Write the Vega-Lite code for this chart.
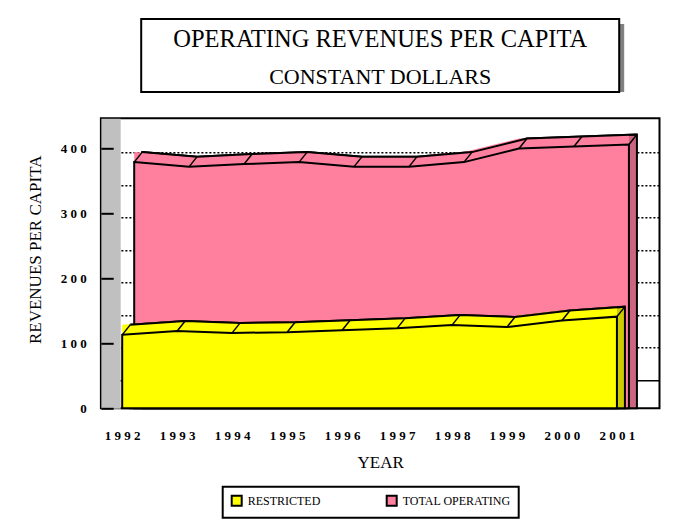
{
  "$schema": "https://vega.github.io/schema/vega-lite/v6.json",
  "autosize": {"type": "none"},
  "padding": {"left": 100.7, "top": 19, "right": 577.3, "bottom": 510},
  "background": "white",
  "config": {
    "font": "Liberation Serif",
    "view": {"stroke": null},
    "axis": {"labelColor": "black", "titleColor": "black", "labelFont": "Liberation Serif", "titleFont": "Liberation Serif", "titleFontWeight": "normal"},
    "legend": {"strokeWidth": 2}
  },
  "datasets": {
    "rev": [
      {"year": 1992, "series": "RESTRICTED", "value": 113},
      {"year": 1993, "series": "RESTRICTED", "value": 119},
      {"year": 1994, "series": "RESTRICTED", "value": 116},
      {"year": 1995, "series": "RESTRICTED", "value": 117},
      {"year": 1996, "series": "RESTRICTED", "value": 120},
      {"year": 1997, "series": "RESTRICTED", "value": 123},
      {"year": 1998, "series": "RESTRICTED", "value": 128},
      {"year": 1999, "series": "RESTRICTED", "value": 125},
      {"year": 2000, "series": "RESTRICTED", "value": 135},
      {"year": 2001, "series": "RESTRICTED", "value": 141},
      {"year": 1992, "series": "TOTAL OPERATING", "value": 348},
      {"year": 1993, "series": "TOTAL OPERATING", "value": 341},
      {"year": 1994, "series": "TOTAL OPERATING", "value": 345},
      {"year": 1995, "series": "TOTAL OPERATING", "value": 348},
      {"year": 1996, "series": "TOTAL OPERATING", "value": 341},
      {"year": 1997, "series": "TOTAL OPERATING", "value": 341},
      {"year": 1998, "series": "TOTAL OPERATING", "value": 348},
      {"year": 1999, "series": "TOTAL OPERATING", "value": 369},
      {"year": 2000, "series": "TOTAL OPERATING", "value": 372},
      {"year": 2001, "series": "TOTAL OPERATING", "value": 375}
    ]
  },
  "spacing": 26.3,
  "bounds": "flush",
  "center": true,
  "vconcat": [
    {
      "width": 478,
      "height": 73,
      "view": {"stroke": null},
      "data": {"values": [{"title": "OPERATING REVENUES PER CAPITA", "subtitle": "CONSTANT DOLLARS"}]},
      "layer": [
        {"mark": {"type": "rect", "fill": "#808080", "xOffset": 5, "x2Offset": 5, "yOffset": 5, "y2Offset": 5}, "encoding": {}},
        {"mark": {"type": "rect", "fill": "white", "stroke": "black", "strokeWidth": 2}, "encoding": {}},
        {"mark": {"type": "text", "font": "Liberation Serif", "fontSize": 24.5, "baseline": "alphabetic", "dy": -8.8, "color": "black"}, "encoding": {"text": {"field": "title"}}},
        {"mark": {"type": "text", "font": "Liberation Serif", "fontSize": 22, "baseline": "alphabetic", "dy": 28.5, "color": "black"}, "encoding": {"text": {"field": "subtitle"}}}
      ]
    },
    {
      "width": 558.6,
      "height": 290,
      "view": {"stroke": "black", "strokeWidth": 2},
      "data": {"name": "rev"},
      "encoding": {
        "x": {
          "field": "year", "type": "quantitative",
          "scale": {"domain": [1991.6125, 2001.7745], "nice": false, "zero": false},
          "axis": {
            "values": [1992, 1993, 1994, 1995, 1996, 1997, 1998, 1999, 2000, 2001],
            "format": "d",
            "labelExpr": "join(split(datum.label, ''), ' ')",
            "labelFontSize": 13, "labelFontWeight": "bold", "labelPadding": 21,
            "ticks": false, "tickSize": 0, "domain": false, "grid": false,
            "title": "YEAR", "titleFontSize": 17, "titlePadding": 12
          }
        }
      },
      "layer": [
        {
          "mark": {"type": "point", "opacity": 0, "size": 0},
          "encoding": {
            "y": {
              "field": "value", "type": "quantitative",
              "scale": {"domain": [-43.08, 403.07], "nice": false, "zero": false},
              "axis": {
                "orient": "left",
                "offset": -9.65,
                "values": [0, 50, 100, 150, 200, 250, 300, 350],
                "labels": false, "ticks": false, "tickSize": 0,
                "domain": true, "domainColor": "#C0C0C0", "domainWidth": 19.3,
                "grid": true, "gridColor": "black", "gridWidth": 1.5, "gridOpacity": 1,
                "gridDash": {"condition": {"test": "datum.value === 0", "value": []}, "value": [2, 2]},
                "title": null
              }
            }
          }
        },
        {
          "encoding": {
            "y": {
              "field": "value", "type": "quantitative", "stack": null,
              "scale": {"domain": [0, 446.15], "nice": false, "zero": false},
              "axis": {
                "orient": "left",
                "zindex": 1,
                "values": [0, 100, 200, 300, 400],
                "labelExpr": "join(split(datum.label, ''), ' ')",
                "labelFontSize": 13, "labelFontWeight": "bold", "labelPadding": 14.7,
                "ticks": true, "tickSize": 12.3, "tickColor": "black", "tickWidth": 2, "tickOpacity": 1,
                "domain": false,
                "offset": -12.3, "grid": false,
                "title": "REVENUES PER CAPITA", "titleFontSize": 17, "titlePadding": 16, "titleY": 131
              }
            }
          },
          "layer": [
            {
              "transform": [{"filter": "datum.series === 'TOTAL OPERATING'"}],
              "mark": {"type": "area", "fill": "#CC6680", "stroke": "black", "strokeWidth": 2, "opacity": 1, "xOffset": 20, "yOffset": -30, "y2Offset": -30}
            },
            {
              "transform": [{"filter": "datum.series === 'TOTAL OPERATING'"}],
              "mark": {"type": "area", "fill": "#FF7F9F", "strokeWidth": 0, "opacity": 1, "xOffset": 12, "yOffset": -30, "y2Offset": -30}
            },
            {
              "transform": [{"filter": "datum.series === 'TOTAL OPERATING'"}],
              "mark": {"type": "line", "color": "black", "strokeWidth": 2, "xOffset": 20, "yOffset": -30},
              "encoding": {}
            },
            {
              "transform": [{"filter": "datum.series === 'TOTAL OPERATING'"}],
              "mark": {"type": "rule", "color": "black", "strokeWidth": 1.5, "xOffset": 12, "yOffset": -20, "x2Offset": 20, "y2Offset": -30},
              "encoding": {"x2": {"field": "year"}, "y2": {"field": "value"}}
            },
            {
              "transform": [{"filter": "datum.series === 'TOTAL OPERATING'"}],
              "mark": {"type": "area", "stroke": "black", "strokeWidth": 2, "opacity": 1, "xOffset": 12, "yOffset": -20, "y2Offset": -20},
              "encoding": {
                "color": {
                  "field": "series", "type": "nominal",
                  "scale": {"domain": ["RESTRICTED", "TOTAL OPERATING"], "range": ["#FFFF00", "#FF7F9F"]},
                  "legend": {
                    "orient": "none", "legendX": 122, "legendY": 467.7,
                    "direction": "horizontal", "columns": 2, "gridAlign": "all", "columnPadding": 27,
                    "padding": 8, "strokeColor": "black", "fillColor": "white",
                    "symbolType": "square", "symbolSize": 100, "symbolStrokeColor": "black", "symbolStrokeWidth": 2, "symbolOpacity": 1,
                    "labelFont": "Liberation Serif", "labelFontSize": 12, "labelColor": "black", "labelOffset": 5,
                    "title": null
                  }
                }
              }
            },
            {
              "transform": [{"filter": "datum.series === 'RESTRICTED'"}],
              "mark": {"type": "area", "fill": "#CCCC00", "stroke": "black", "strokeWidth": 2, "opacity": 1, "xOffset": 8, "yOffset": -10, "y2Offset": -10}
            },
            {
              "transform": [{"filter": "datum.series === 'RESTRICTED'"}],
              "mark": {"type": "area", "fill": "#FFFF00", "strokeWidth": 0, "opacity": 1, "yOffset": -10, "y2Offset": -10}
            },
            {
              "transform": [{"filter": "datum.series === 'RESTRICTED'"}],
              "mark": {"type": "line", "color": "black", "strokeWidth": 2, "xOffset": 8, "yOffset": -10},
              "encoding": {}
            },
            {
              "transform": [{"filter": "datum.series === 'RESTRICTED'"}],
              "mark": {"type": "rule", "color": "black", "strokeWidth": 1.5, "x2Offset": 8, "y2Offset": -10},
              "encoding": {"x2": {"field": "year"}, "y2": {"field": "value"}}
            },
            {
              "transform": [{"filter": "datum.series === 'RESTRICTED'"}],
              "mark": {"type": "area", "stroke": "black", "strokeWidth": 2, "opacity": 1},
              "encoding": {
                "color": {
                  "field": "series", "type": "nominal",
                  "scale": {"domain": ["RESTRICTED", "TOTAL OPERATING"], "range": ["#FFFF00", "#FF7F9F"]}
                }
              }
            }
          ]
        }
      ],
      "resolve": {"scale": {"y": "independent"}, "axis": {"y": "independent"}}
    }
  ]
}
